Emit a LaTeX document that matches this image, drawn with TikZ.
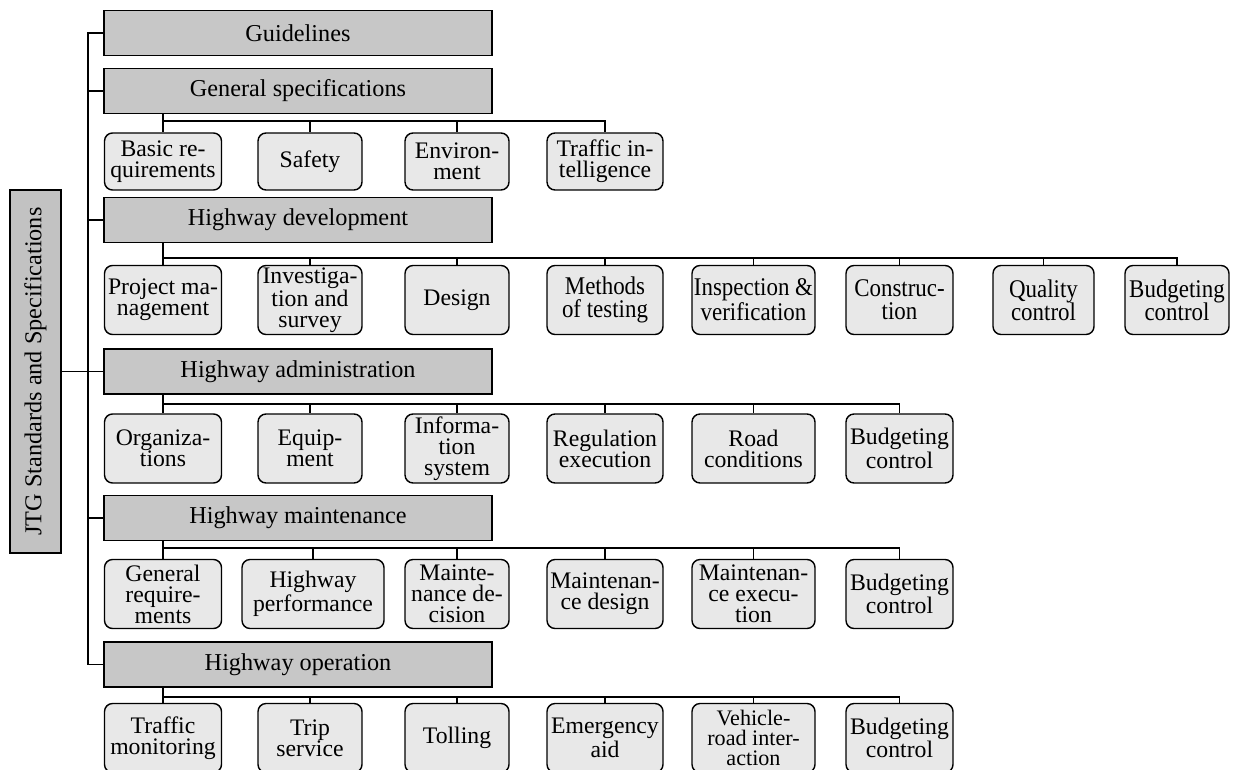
\documentclass[tikz,border=0pt]{standalone}
\usepackage{fontspec}
\setmainfont{Liberation Serif}
\newfontfamily\slimfam[FakeStretch=0.9]{Liberation Serif}
\usepackage{tikz}
\usetikzlibrary{calc, positioning}
\newcommand\catfont{\fontsize{13.8pt}{14pt}\selectfont}
\newcommand\kidfont{\fontsize{13.5pt}{12pt}\selectfont}
\newcommand\tightfont{\fontsize{12.6pt}{11.6pt}\selectfont}
\newcommand\slimfont{\slimfam\fontsize{14.5pt}{13.2pt}\selectfont}
\tikzset{
  rootbox/.style={draw, line width=0.9pt, fill=black!24, rotate=90, minimum width=7.26cm, minimum height=1.02cm, inner sep=0pt, font=\catfont},
  cat/.style={draw, line width=0.9pt, fill=black!22, minimum width=7.76cm, minimum height=0.9cm, inner sep=0pt, font=\catfont},
  sub/.style={draw, line width=0.8pt, rounded corners=0.16cm, fill=black!9, align=center, inner sep=0pt, minimum height=1.38cm, font=\kidfont},
  low/.style={minimum height=1.14cm},
  slim/.style={font=\slimfont},
  tight/.style={font=\tightfont},
  wa/.style={minimum width=2.34cm},
  wb/.style={minimum width=2.08cm},
  wc/.style={minimum width=2.32cm},
  wd/.style={minimum width=2.46cm},
  we/.style={minimum width=2.14cm},
  wf/.style={minimum width=2.02cm},
  wg/.style={minimum width=2.84cm},
  wire/.style={line width=0.7pt}
}
\begin{document}
\begin{tikzpicture}[x=0.02cm, y=-0.02cm]
\useasboundingbox (0,0) rectangle (1237,770);
\node[rootbox] (jtg) at (35.5,371.5) {JTG Standards and Specifications};
\node[cat] (gl) at (298,33) {Guidelines};
\node[cat] (gs) at (298,91) {General specifications};
\node[cat] (hd) at (298,220) {Highway development};
\node[cat] (ha) at (298,371.5) {Highway administration};
\node[cat] (hm) at (298,518) {Highway maintenance};
\node[cat] (ho) at (298,664.5) {Highway operation};

\node[sub, low, wa] (gs1) at (163,161.5) {Basic re-\\quirements};
\node[sub, low, wb] (gs2) at (310,161.5) {Safety};
\node[sub, low, wb] (gs3) at (457,161.5) {Environ-\\ment};
\node[sub, low, wc] (gs4) at (605,161.5) {Traffic in-\\telligence};

\node[sub, wa] (hd1) at (163,300) {Project ma-\\nagement};
\node[sub, wb] (hd2) at (310,300) {Investiga-\\tion and\\survey};
\node[sub, wb] (hd3) at (457,300) {Design};
\node[sub, wc, slim] (hd4) at (605,300) {Methods\\of testing};
\node[sub, wd, slim] (hd5) at (753.5,300) {Inspection \&\\verification};
\node[sub, we, slim] (hd6) at (899.5,300) {Construc-\\tion};
\node[sub, wf, slim] (hd7) at (1043.5,300) {Quality\\control};
\node[sub, wb, slim] (hd8) at (1177,300) {Budgeting\\control};

\node[sub, wa] (ha1) at (163,448.5) {Organiza-\\tions};
\node[sub, wb] (ha2) at (310,448.5) {Equip-\\ment};
\node[sub, wb] (ha3) at (457,448.5) {Informa-\\tion\\system};
\node[sub, wc] (ha4) at (605,448.5) {Regulation\\execution};
\node[sub, wd] (ha5) at (753.5,448.5) {Road\\conditions};
\node[sub, we] (ha6) at (899.5,448.5) {Budgeting\\control};

\node[sub, wa] (hm1) at (163,594) {General\\require-\\ments};
\node[sub, wg] (hm2) at (313,594) {Highway\\performance};
\node[sub, wb] (hm3) at (457,594) {Mainte-\\nance de-\\cision};
\node[sub, wc] (hm4) at (605,594) {Maintenan-\\ce design};
\node[sub, wd] (hm5) at (753.5,594) {Maintenan-\\ce execu-\\tion};
\node[sub, we] (hm6) at (899.5,594) {Budgeting\\control};

\node[sub, wa] (ho1) at (163,738) {Traffic\\monitoring};
\node[sub, wb] (ho2) at (310,738) {Trip\\service};
\node[sub, wb] (ho3) at (457,738) {Tolling};
\node[sub, wc] (ho4) at (605,738) {Emergency\\aid};
\node[sub, wd, tight] (ho5) at (753.5,738) {Vehicle-\\road inter-\\action};
\node[sub, we] (ho6) at (899.5,738) {Budgeting\\control};

\coordinate (trk) at (88,0);
\draw[wire] (jtg.south |- ha.west) -- (ha.west);
\draw[wire] (gl.west) -- (gl.west -| trk) -- (ho.west -| trk) -- (ho.west);
\foreach \c in {gs,hd,ha,hm}
  \draw[wire] (\c.west) -- (\c.west -| trk);

\coordinate (gsb) at (163,121);
\coordinate (hdb) at (163,258);
\coordinate (hab) at (163,404);
\coordinate (hmb) at (163,548);
\coordinate (hob) at (163,697);
\draw[wire] (gs.south -| gsb) -- (gs1.north);
\foreach \c in {gs2,gs3,gs4}
  \draw[wire] (gsb) -| (\c.north);
\draw[wire] (hd.south -| hdb) -- (hd1.north);
\foreach \c in {hd2,hd3,hd4,hd5,hd6,hd7,hd8}
  \draw[wire] (hdb) -| (\c.north);
\draw[wire] (ha.south -| hab) -- (ha1.north);
\foreach \c in {ha2,ha3,ha4,ha5,ha6}
  \draw[wire] (hab) -| (\c.north);
\draw[wire] (hm.south -| hmb) -- (hm1.north);
\foreach \c in {hm2,hm3,hm4,hm5,hm6}
  \draw[wire] (hmb) -| (\c.north);
\draw[wire] (ho.south -| hob) -- (ho1.north);
\foreach \c in {ho2,ho3,ho4,ho5,ho6}
  \draw[wire] (hob) -| (\c.north);
\end{tikzpicture}
\end{document}
